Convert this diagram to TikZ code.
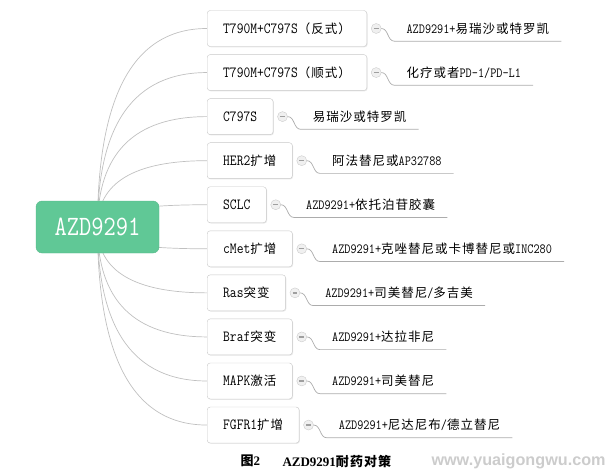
\documentclass[tikz,border=0pt]{standalone}
\usepackage{fontspec}
\setmainfont{Latin Modern Mono}[FakeStretch=0.85]
\newfontfamily\zhfont{Noto Sans CJK SC}[LetterSpace=8]
\newfontfamily\serifbf{Liberation Serif}
\newfontfamily\wmfont{Liberation Sans}
\usetikzlibrary{positioning,shadows,backgrounds,calc}
\definecolor{rootgreen}{RGB}{96,200,150}
\definecolor{boxline}{RGB}{200,200,200}
\definecolor{linkgray}{RGB}{192,192,192}
\newcommand{\zh}[1]{{\fontsize{12.5}{14}\zhfont #1}}
\newcommand{\rootlink}[1]{\coordinate (k) at (root.center |- #1.west);
  \draw[link] (root.center) .. controls ($(root.center)!.667!(k)$) and ($(#1.west)!.667!(k)$) .. (#1.west);}

\begin{document}
\begin{tikzpicture}[x=1pt,y=-1pt,
  root/.style={rectangle,rounded corners=6pt,fill=rootgreen,draw=rootgreen!92!black,text=white,
    minimum width=123pt,minimum height=52pt,font=\fontsize{28}{30}\selectfont},
  topic/.style={rectangle,rounded corners=3pt,draw=boxline,fill=white,minimum height=36pt,inner xsep=16pt,
    font=\fontsize{15.5}{17}\selectfont,drop shadow={shadow xshift=.8pt,shadow yshift=-.8pt,opacity=.18}},
  minus/.style={circle,draw=gray!40,fill=gray!12,minimum size=10pt,inner sep=0pt,
    path picture={\draw[gray!75,line width=1.3pt] ([xshift=-2.3pt]path picture bounding box.center)--([xshift=2.3pt]path picture bounding box.center);}},
  leaf/.style={inner xsep=12pt,inner ysep=0pt,minimum height=25pt,font=\fontsize{14}{16}\selectfont},
  link/.style={draw=linkgray,line width=.7pt},
  uline/.style={draw=gray!65,line width=.7pt}]
\useasboundingbox (0,0) rectangle (612,473);
\node[root] (root) at (97.5,227) {AZD9291};
\foreach \i/\lab/\res in {
  1/{T790M+C797S\zh{（反式）}}/{AZD9291+\zh{易瑞沙或特罗凯}},
  2/{T790M+C797S\zh{（顺式）}}/{\zh{化疗或者}PD-1/PD-L1},
  3/{C797S}/{\zh{易瑞沙或特罗凯}},
  4/{HER2\zh{扩增}}/{\zh{阿法替尼或}AP32788},
  5/{SCLC}/{AZD9291+\zh{依托泊苷胶囊}},
  6/{cMet\zh{扩增}}/{AZD9291+\zh{克唑替尼或卡博替尼或}INC280},
  7/{Ras\zh{突变}}/{AZD9291+\zh{司美替尼}/\zh{多吉美}},
  8/{Braf\zh{突变}}/{AZD9291+\zh{达拉非尼}},
  9/{MAPK\zh{激活}}/{AZD9291+\zh{司美替尼}},
  10/{FGFR1\zh{扩增}}/{AZD9291+\zh{尼达尼布}/\zh{德立替尼}}} {
  \node[topic,anchor=west] (b\i) at (207,{28.5+44.06*(\i-1)}) {\lab};
  \node[minus,right=4pt of b\i] (m\i) {};
  \node[leaf,right=13pt of m\i] (l\i) {\res};
  \draw[uline] (m\i.east) to[out=0,in=180] (l\i.south west) -- (l\i.south east);
}
\begin{scope}[on background layer]
\foreach \i in {1,...,10} {\rootlink{b\i}}
\end{scope}
\node[anchor=west,font=\fontsize{13}{15}\selectfont] (fig) at (237,461) {{\zhfont\bfseries 图}{\serifbf\bfseries 2}};
\node[anchor=west,font=\fontsize{13}{15}\selectfont] (cap) at (279,461) {{\serifbf\bfseries AZD9291}{\zhfont\bfseries 耐药对策}};
\node[anchor=west,text=gray!40,font=\wmfont\bfseries\fontsize{16.2}{18}\selectfont] (wm) at (428,461) {www.yuaigongwu.com};
\end{tikzpicture}
\end{document}
